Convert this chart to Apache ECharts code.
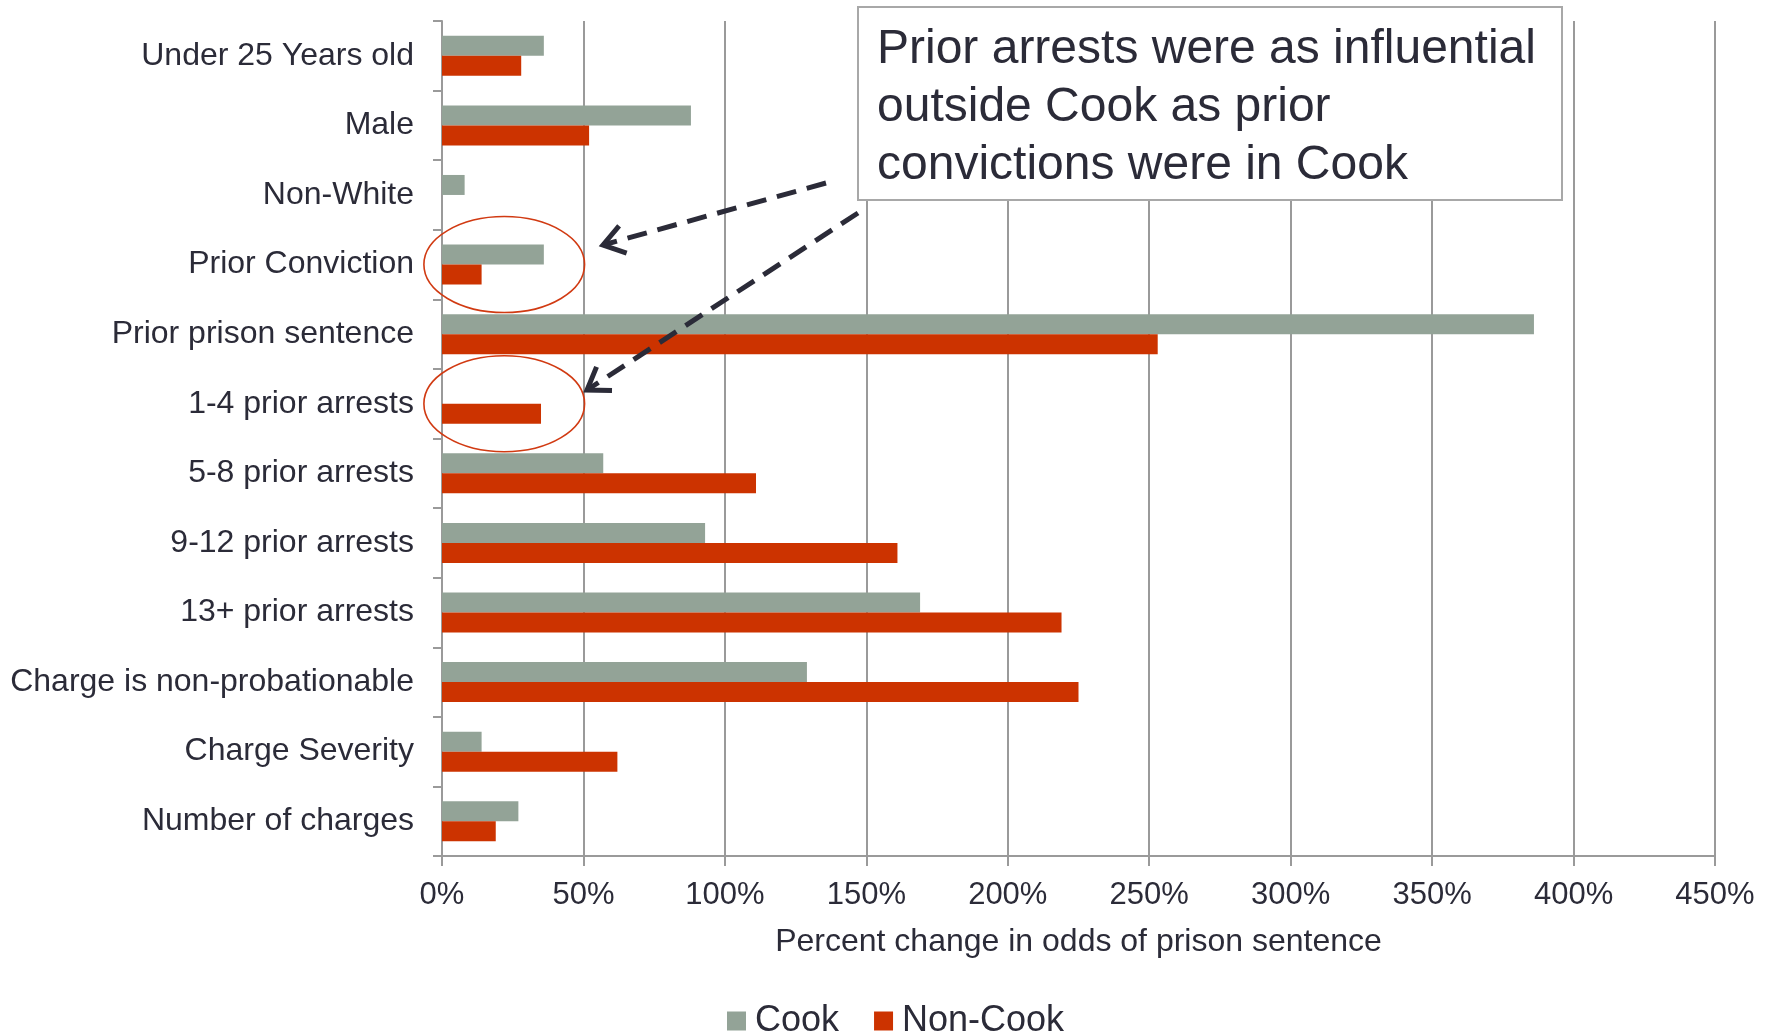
<!DOCTYPE html>
<html>
<head>
<meta charset="utf-8">
<title>Percent change in odds of prison sentence</title>
<script src="https://cdn.jsdelivr.net/npm/echarts@6/dist/echarts.min.js"></script>
<style>
  html, body { margin: 0; padding: 0; background: #fff; }
  #chart { width: 1775px; height: 1034px; }
</style>
</head>
<body>
<div id="chart"></div>
<script>
const categories = [
  "Under 25 Years old",
  "Male",
  "Non-White",
  "Prior Conviction",
  "Prior prison sentence",
  "1-4 prior arrests",
  "5-8 prior arrests",
  "9-12 prior arrests",
  "13+ prior arrests",
  "Charge is non-probationable",
  "Charge Severity",
  "Number of charges"
];
const cook = [36, 88, 8, 36, 386, 0, 57, 93, 169, 129, 14, 27];
const nonCook = [28, 52, 0, 14, 253, 35, 111, 161, 219, 225, 62, 19];
const noteLines = [
  "Prior arrests were as influential",
  "outside Cook as prior",
  "convictions were in Cook"
];
// categories circled in the picture
const circled = ["Prior Conviction", "1-4 prior arrests"];

const font = '"Liberation Sans", Arial, Helvetica, sans-serif';
const textColor = "#2b2b38";
const lineGray = "#9a9a9a";
const gray = "#93a397";
const red = "#cc3300";

const chart = echarts.init(document.getElementById("chart"));

chart.setOption({
  animation: false,
  backgroundColor: "#fff",
  textStyle: { fontFamily: font },
  grid: { left: 442, right: 60, top: 21, bottom: 178, containLabel: false },
  legend: {
    data: ["Cook", "Non-Cook"],
    left: 722,
    top: 998,
    icon: "rect",
    itemWidth: 19,
    itemHeight: 19,
    itemGap: 35,
    textStyle: { fontSize: 36, color: textColor, fontFamily: font, padding: [0, 0, 0, 4] }
  },
  xAxis: {
    type: "value",
    min: 0,
    max: 450,
    interval: 50,
    name: "Percent change in odds of prison sentence",
    nameLocation: "middle",
    nameGap: 70,
    nameTextStyle: { fontSize: 32, color: textColor, fontFamily: font },
    axisLine: { show: true, lineStyle: { color: lineGray, width: 2 } },
    axisTick: { show: true, length: 10, lineStyle: { color: lineGray, width: 2 } },
    axisLabel: { formatter: "{value}%", fontSize: 31, color: textColor, margin: 24, fontFamily: font },
    splitLine: { show: true, lineStyle: { color: lineGray, width: 2 } }
  },
  yAxis: {
    type: "category",
    inverse: true,
    data: categories,
    axisLine: { show: true, lineStyle: { color: lineGray, width: 2 } },
    axisTick: { show: true, length: 9, lineStyle: { color: lineGray, width: 2 } },
    axisLabel: { fontSize: 32, color: textColor, margin: 28, fontFamily: font, padding: [3, 0, 0, 0] },
    splitLine: { show: false }
  },
  series: [
    {
      name: "Cook",
      type: "bar",
      data: cook,
      barWidth: 20,
      barGap: "0%",
      itemStyle: { color: gray }
    },
    {
      name: "Non-Cook",
      type: "bar",
      data: nonCook,
      barWidth: 20,
      barGap: "0%",
      itemStyle: { color: red }
    }
  ]
});

// annotation: callout box, arrows and circles
function arrow(x1, y1, x2, y2) {
  const ang = Math.atan2(y1 - y2, x1 - x2);
  const arm = 25, spread = 0.6;
  return [
    {
      type: "line",
      shape: { x1: x1, y1: y1, x2: x2, y2: y2 },
      style: { stroke: textColor, lineWidth: 5, lineDash: [20, 11] },
      z: 100
    },
    {
      type: "polyline",
      shape: {
        points: [
          [x2 + arm * Math.cos(ang + spread), y2 + arm * Math.sin(ang + spread)],
          [x2, y2],
          [x2 + arm * Math.cos(ang - spread), y2 + arm * Math.sin(ang - spread)]
        ]
      },
      style: { stroke: textColor, lineWidth: 5, fill: null },
      z: 100
    }
  ];
}

const graphics = [];
circled.forEach(function (name) {
  const c = chart.convertToPixel({ gridIndex: 0 }, [22, name]);
  const r = chart.convertToPixel({ gridIndex: 0 }, [50.4, name]);
  graphics.push({
    type: "ellipse",
    shape: { cx: c[0], cy: c[1], rx: r[0] - c[0], ry: 48 },
    style: { stroke: "#d13a12", lineWidth: 1.6, fill: null },
    z: 100
  });
});

graphics.push({
  type: "rect",
  shape: { x: 858, y: 7, width: 704, height: 193 },
  style: { fill: "#fff", stroke: "#a8a8a8", lineWidth: 2 },
  z: 100
});
graphics.push({
  type: "text",
  x: 877,
  y: 21,
  style: {
    text: noteLines.join("\n"),
    font: "48px " + font,
    fill: textColor,
    lineHeight: 58,
    verticalAlign: "top"
  },
  z: 101
});

arrow(826, 183, 603, 245).forEach(function (g) { graphics.push(g); });
arrow(858, 213, 587, 390).forEach(function (g) { graphics.push(g); });

chart.setOption({ graphic: graphics });
</script>
</body>
</html>
